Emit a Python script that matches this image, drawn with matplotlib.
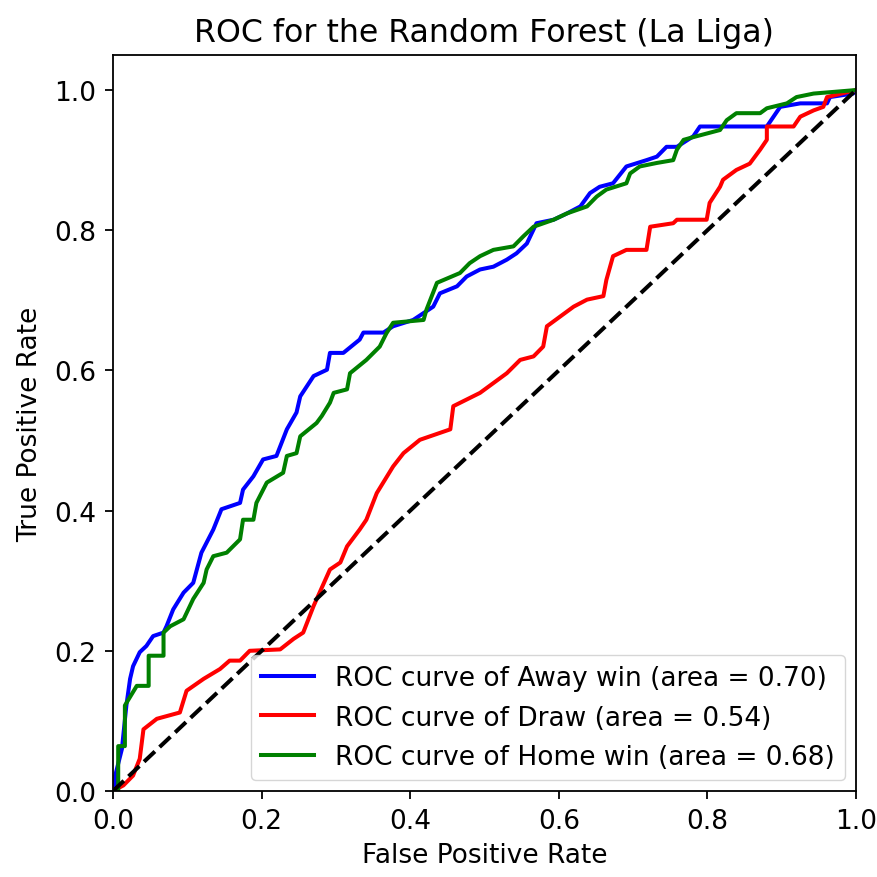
import matplotlib
matplotlib.use("Agg")
import matplotlib.pyplot as plt

classes = ["Away win", "Draw", "Home win"]
areas = [0.70, 0.54, 0.68]
colors = ["blue", "red", "green"]

away_fpr = [0, 0.003, 0.003, 0.012, 0.018, 0.023, 0.027, 0.036, 0.045, 0.054,
            0.068, 0.072, 0.081, 0.095, 0.108, 0.119, 0.135, 0.146, 0.171, 0.175,
            0.189, 0.202, 0.220, 0.234, 0.247, 0.252, 0.270, 0.288, 0.292, 0.310,
            0.332, 0.337, 0.364, 0.377, 0.404, 0.431, 0.440, 0.463, 0.476, 0.494,
            0.512, 0.530, 0.543, 0.557, 0.570, 0.593, 0.611, 0.629, 0.642, 0.655,
            0.673, 0.691, 0.718, 0.732, 0.745, 0.759, 0.781, 0.790, 0.880, 0.889,
            0.898, 0.925, 0.961, 0.965, 0.996, 1.0]
away_tpr = [0, 0, 0.022, 0.060, 0.122, 0.160, 0.178, 0.198, 0.207, 0.221,
            0.226, 0.235, 0.259, 0.283, 0.297, 0.340, 0.373, 0.402, 0.411, 0.430,
            0.449, 0.473, 0.478, 0.516, 0.540, 0.563, 0.592, 0.601, 0.625, 0.625,
            0.644, 0.654, 0.654, 0.663, 0.672, 0.691, 0.710, 0.720, 0.734, 0.744,
            0.748, 0.758, 0.767, 0.781, 0.810, 0.815, 0.824, 0.834, 0.853, 0.862,
            0.867, 0.891, 0.900, 0.905, 0.919, 0.919, 0.934, 0.948, 0.948, 0.962,
            0.976, 0.981, 0.981, 0.990, 0.995, 1.0]

draw_fpr = [0, 0.014, 0.027, 0.036, 0.041, 0.059, 0.090, 0.099, 0.122, 0.144,
            0.157, 0.171, 0.184, 0.225, 0.243, 0.256, 0.270, 0.292, 0.306, 0.315,
            0.332, 0.341, 0.355, 0.377, 0.391, 0.413, 0.454, 0.458, 0.494, 0.530,
            0.548, 0.566, 0.579, 0.584, 0.602, 0.620, 0.638, 0.660, 0.664, 0.673,
            0.691, 0.718, 0.723, 0.754, 0.759, 0.799, 0.803, 0.817, 0.821, 0.839,
            0.857, 0.871, 0.880, 0.880, 0.916, 0.925, 0.943, 0.956, 0.961, 1.0]
draw_tpr = [0, 0.008, 0.022, 0.046, 0.088, 0.103, 0.112, 0.143, 0.160, 0.174,
            0.186, 0.186, 0.200, 0.202, 0.217, 0.226, 0.264, 0.316, 0.326, 0.349,
            0.373, 0.387, 0.425, 0.463, 0.482, 0.501, 0.516, 0.549, 0.568, 0.596,
            0.615, 0.620, 0.634, 0.663, 0.677, 0.691, 0.701, 0.706, 0.729, 0.763,
            0.772, 0.772, 0.805, 0.810, 0.815, 0.815, 0.839, 0.862, 0.872, 0.886,
            0.895, 0.915, 0.929, 0.948, 0.948, 0.962, 0.971, 0.976, 0.990, 1.0]

home_fpr = [0, 0.007, 0.007, 0.016, 0.016, 0.032, 0.048, 0.048, 0.068, 0.068,
            0.077, 0.095, 0.108, 0.122, 0.126, 0.135, 0.153, 0.171, 0.175, 0.189,
            0.193, 0.207, 0.229, 0.234, 0.247, 0.252, 0.274, 0.281, 0.292, 0.297,
            0.315, 0.319, 0.341, 0.359, 0.368, 0.377, 0.418, 0.422, 0.436, 0.467,
            0.480, 0.494, 0.512, 0.539, 0.552, 0.566, 0.593, 0.611, 0.638, 0.651,
            0.664, 0.691, 0.696, 0.709, 0.732, 0.754, 0.759, 0.768, 0.785, 0.817,
            0.826, 0.839, 0.871, 0.880, 0.907, 0.920, 0.943, 1.0]
home_tpr = [0, 0, 0.064, 0.064, 0.122, 0.150, 0.150, 0.193, 0.193, 0.226,
            0.235, 0.245, 0.274, 0.297, 0.316, 0.335, 0.340, 0.359, 0.387, 0.387,
            0.411, 0.440, 0.454, 0.478, 0.482, 0.506, 0.525, 0.535, 0.554, 0.568,
            0.573, 0.596, 0.615, 0.634, 0.653, 0.668, 0.672, 0.687, 0.725, 0.739,
            0.753, 0.763, 0.772, 0.777, 0.791, 0.805, 0.815, 0.824, 0.834, 0.848,
            0.858, 0.867, 0.881, 0.891, 0.896, 0.900, 0.915, 0.929, 0.934, 0.943,
            0.957, 0.967, 0.967, 0.974, 0.981, 0.990, 0.995, 1.0]

curves = [(away_fpr, away_tpr), (draw_fpr, draw_tpr), (home_fpr, home_tpr)]

fs = 19
fig = plt.figure(figsize=(8.77, 8.78), dpi=100)
ax = fig.add_axes([113/877, 86/878, 743/877, 736/878])

for (fpr, tpr), name, area, c in zip(curves, classes, areas, colors):
    ax.plot(fpr, tpr, color=c, lw=2.9,
            label="ROC curve of {0} (area = {1:0.2f})".format(name, area))

ax.plot([0, 1], [0, 1], "k--", lw=2.9)
ax.set_xlim([0.0, 1.0])
ax.set_ylim([0.0, 1.05])
ax.set_xlabel("False Positive Rate", fontsize=fs, labelpad=6)
ax.set_ylabel("True Positive Rate", fontsize=fs, labelpad=8)
ax.set_title("ROC for the Random Forest (La Liga)", fontsize=fs * 1.2, pad=10)
ax.tick_params(labelsize=fs, width=1.3, length=6, pad=6)
for s in ax.spines.values():
    s.set_linewidth(1.3)
ax.legend(loc="lower right", fontsize=fs, handlelength=2.0,
          borderaxespad=0.4, labelspacing=0.5)

fig.savefig("out.png", dpi=100)
